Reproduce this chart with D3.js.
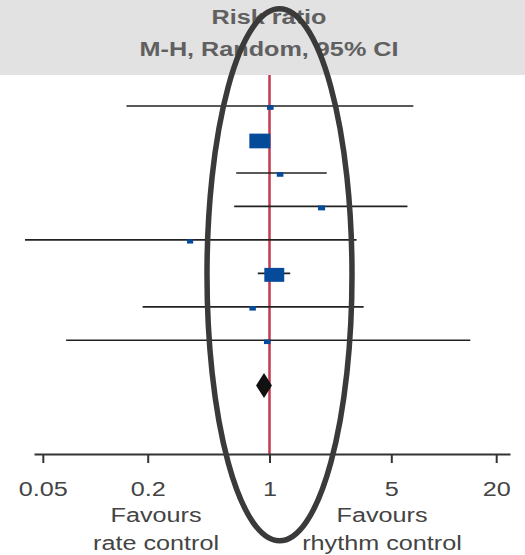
<!DOCTYPE html>
<html>
<head>
<meta charset="utf-8">
<script src="https://cdn.jsdelivr.net/npm/d3@7"></script>
<style>
  body { margin: 0; background: #fff; }
  text { font-family: "Liberation Sans", Arial, sans-serif; }
</style>
</head>
<body>
<div id="chart"></div>
<script>
// study rows (top to bottom): risk ratio and 95% CI
let ratio  = [1.01, 0.88, 1.15, 1.99, 0.35, 1.065, 0.80, 0.97];
let lower  = [0.151, 0.81, 0.644, 0.627, 0.0395, 0.856, 0.187, 0.068];
let upper  = [6.69, 0.96, 2.13, 6.19, 3.16, 1.315, 3.47, 14.2];
let weight = [4.0, 40, 4.0, 4.5, 3.5, 36, 3.8, 3.8];

// pooled estimate
let total = {ratio: 0.93, lower: 0.837, upper: 1.033};

let tickValues = [0.05, 0.2, 1, 5, 20];
let headerLines = ["Risk ratio", "M-H, Random, 95% CI"];
let leftLabel = ["Favours", "rate control"];
let rightLabel = ["Favours", "rhythm control"];

let width = 525, height = 555;
let stretch = 1.2;   // text in the picture is drawn a little wide

let svg = d3.select("#chart").append("svg")
    .attr("width", width)
    .attr("height", height);

// header band
svg.append("rect")
    .attr("x", 0).attr("y", 0)
    .attr("width", width).attr("height", 75)
    .attr("fill", "#e2e2e2");

svg.selectAll(".header")
    .data(headerLines)
    .enter().append("text")
    .attr("class", "header")
    .attr("transform", (d, i) => "translate(269," + (24 + i * 32) + ") scale(" + stretch + ",1)")
    .attr("text-anchor", "middle")
    .attr("font-size", 21)
    .attr("font-weight", "bold")
    .attr("fill", "#606060")
    .text(d => d);

// scales
let x = d3.scaleLog()
    .domain([0.0445, 24])
    .range([34, 510]);

let y = d3.scaleLinear()
    .domain([0, 7])
    .range([106, 340.3]);

let box = d3.scaleSqrt()
    .domain([0, 40])
    .range([0, 21]);

let axisY = 454;

// line of no effect
svg.append("line")
    .attr("x1", x(1)).attr("x2", x(1))
    .attr("y1", 75).attr("y2", axisY)
    .attr("stroke", "#c43a50")
    .attr("stroke-width", 2.5);

let rows = ratio.map((r, i) => ({ratio: r, lower: lower[i], upper: upper[i], weight: weight[i], index: i}));

// confidence intervals
svg.selectAll(".ci")
    .data(rows)
    .enter().append("line")
    .attr("class", "ci")
    .attr("x1", d => x(d.lower))
    .attr("x2", d => x(d.upper))
    .attr("y1", d => y(d.index))
    .attr("y2", d => y(d.index))
    .attr("stroke", "#222")
    .attr("stroke-width", 1.6);

// weighted boxes
svg.selectAll(".box")
    .data(rows)
    .enter().append("rect")
    .attr("class", "box")
    .attr("x", d => x(d.ratio) - box(d.weight) / 2)
    .attr("y", d => y(d.index) + 1.5 - box(d.weight) * 0.7 / 2)
    .attr("width", d => box(d.weight))
    .attr("height", d => box(d.weight) * 0.7)
    .attr("fill", "#064a9a");

// pooled diamond
let dy = y(8.35);
svg.append("path")
    .attr("d", "M" + x(total.lower) + "," + dy +
               "L" + x(total.ratio) + "," + (dy - 12.5) +
               "L" + x(total.upper) + "," + dy +
               "L" + x(total.ratio) + "," + (dy + 12.5) + "Z")
    .attr("fill", "#111");

// axis
let axis = svg.append("g")
    .attr("transform", "translate(0," + axisY + ")")
    .call(d3.axisBottom(x)
        .tickValues(tickValues)
        .tickFormat(d => d)
        .tickSizeInner(9)
        .tickSizeOuter(0));

axis.select(".domain")
    .attr("stroke", "#333")
    .attr("stroke-width", 2);

axis.selectAll(".tick line")
    .attr("stroke", "#333")
    .attr("stroke-width", 2);

axis.selectAll(".tick text")
    .attr("y", 42)
    .attr("dy", null)
    .attr("transform", "scale(" + stretch + ",1)")
    .attr("font-size", 21)
    .attr("font-family", "Liberation Sans, Arial, sans-serif")
    .attr("fill", "#444");

// favours labels
function favours(lines, cx) {
    svg.append("g").selectAll("text")
        .data(lines)
        .enter().append("text")
        .attr("transform", (d, i) => "translate(" + cx + "," + (522 + i * 27.5) + ") scale(" + stretch + ",1)")
        .attr("text-anchor", "middle")
        .attr("font-size", 21)
        .attr("fill", "#444")
        .text(d => d);
}
favours(leftLabel, 156);
favours(rightLabel, 382);

// highlight ellipse drawn over the plot
svg.append("ellipse")
    .attr("cx", 279.5)
    .attr("cy", 274.75)
    .attr("rx", 72.5)
    .attr("ry", 266)
    .attr("fill", "none")
    .attr("stroke", "#3a3a3a")
    .attr("stroke-width", 5.5);
</script>
</body>
</html>
